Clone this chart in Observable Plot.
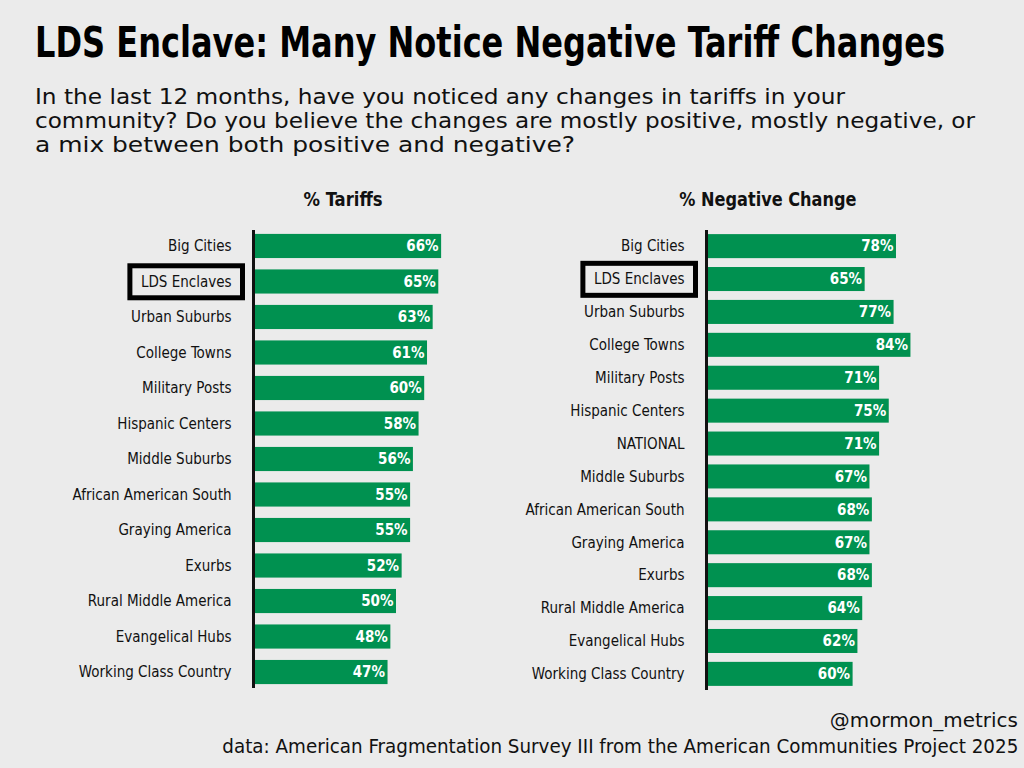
<!DOCTYPE html>
<html>
<head>
<meta charset="utf-8">
<script src="https://cdn.jsdelivr.net/npm/d3@7"></script>
<script src="https://cdn.jsdelivr.net/npm/@observablehq/plot@0.6"></script>
<style>
  html, body { margin: 0; padding: 0; }
  body { width: 1024px; height: 768px; background: #ebebeb; position: relative; overflow: hidden;
         font-family: "DejaVu Sans Condensed", "Liberation Sans Narrow", "Roboto", sans-serif; color: #111; }
  .abs { position: absolute; white-space: nowrap; }
  .fit { display: inline-block; white-space: nowrap; }
  #title { left: 35px; top: 17px; font-size: 43px; font-weight: bold; color: #000; transform-origin: left top; }
  .sub { left: 35px; font-size: 20.5px; line-height: 22px; color: #111; transform-origin: left top; }
  .ptitle { top: 188px; font-size: 19px; line-height: 22px; font-weight: bold; color: #111; transform-origin: center top; }
  .foot { font-size: 20px; line-height: 22px; color: #111; transform-origin: right top; }
  .chart { position: absolute; left: 0; top: 0; }
</style>
</head>
<body>
<div id="title" class="abs fit" data-w="910">LDS Enclave: Many Notice Negative Tariff Changes</div>
<div class="abs fit sub" style="top:86px" data-w="810">In the last 12 months, have you noticed any changes in tariffs in your</div>
<div class="abs fit sub" style="top:110px" data-w="940">community? Do you believe the changes are mostly positive, mostly negative, or</div>
<div class="abs fit sub" style="top:134px" data-w="540">a mix between both positive and negative?</div>
<div class="abs fit ptitle" data-w="79" data-c="343">% Tariffs</div>
<div class="abs fit ptitle" data-w="177" data-c="768">% Negative Change</div>
<div id="left" class="chart"></div>
<div id="right" class="chart"></div>
<div class="abs fit foot" style="right:6px; top:709px" data-w="188">@mormon_metrics</div>
<div class="abs fit foot" style="right:6px; top:735px" data-w="796">data: American Fragmentation Survey III from the American Communities Project 2025</div>
<script>
const tariffCategories = ["Big Cities","LDS Enclaves","Urban Suburbs","College Towns","Military Posts","Hispanic Centers","Middle Suburbs","African American South","Graying America","Exurbs","Rural Middle America","Evangelical Hubs","Working Class Country"];
const tariffValues = [66,65,63,61,60,58,56,55,55,52,50,48,47];

const negCategories = ["Big Cities","LDS Enclaves","Urban Suburbs","College Towns","Military Posts","Hispanic Centers","NATIONAL","Middle Suburbs","African American South","Graying America","Exurbs","Rural Middle America","Evangelical Hubs","Working Class Country"];
const negValues = [78,65,77,84,71,75,71,67,68,67,68,64,62,60];

const highlight = "LDS Enclaves";
const GREEN = "#009150";
const FONT = '"DejaVu Sans Condensed", "Liberation Sans Narrow", "Roboto", sans-serif';

// fit heading/footer texts to the reference widths
document.querySelectorAll(".fit").forEach(el => {
  const w = el.getBoundingClientRect().width;
  const target = +el.dataset.w;
  const s = target / w;
  if (el.dataset.c) {
    el.style.left = (+el.dataset.c - w / 2) + "px";
  }
  el.style.transform = `scaleX(${s})`;
});

function panel(cats, vals, opts) {
  const data = cats.map((c, i) => ({cat: c, v: vals[i]}));
  return Plot.plot({
    width: opts.width,
    height: 700,
    marginTop: 230,
    marginBottom: opts.marginBottom,
    marginLeft: opts.marginLeft,
    marginRight: opts.marginRight,
    style: {background: "transparent", fontFamily: FONT, fontSize: "15px", color: "#111"},
    x: {domain: [0, 100], axis: null},
    y: {domain: cats, round: false, paddingInner: opts.pi, paddingOuter: opts.po, label: null, tickSize: 0, tickPadding: opts.tickPadding},
    marks: [
      Plot.barX(data, {y: "cat", x: "v", fill: GREEN}),
      Plot.text(data, {y: "cat", x: "v", text: d => d.v + "%", textAnchor: "end", dx: -3, fill: "white", fontWeight: "bold", fontSize: 15}),
      Plot.ruleX([0], {stroke: "#111", strokeWidth: 3, dx: -2})
    ]
  });
}

const L = panel(tariffCategories, tariffValues, {width: 540, marginLeft: 255, marginRight: 3, marginBottom: 12, pi: 0.32, po: 0.11, tickPadding: 24});
const R = panel(negCategories, negValues, {width: 1024, marginLeft: 708, marginRight: 75, marginBottom: 10, pi: 0.27, po: 0.125, tickPadding: 24});
document.getElementById("left").appendChild(L);
document.getElementById("right").appendChild(R);

// highlight box around the rendered tick label
[L, R].forEach(svg => {
  const t = Array.from(svg.querySelectorAll("text")).find(el => el.textContent === highlight && el.closest("[aria-label='y-axis tick label']"));
  if (!t) return;
  const bb = t.getBBox();
  const inv = svg.getScreenCTM().inverse();
  const M = t.getScreenCTM();
  const pt = svg.createSVGPoint();
  pt.x = bb.x; pt.y = bb.y;
  const p1 = pt.matrixTransform(M).matrixTransform(inv);
  pt.x = bb.x + bb.width; pt.y = bb.y + bb.height;
  const p2 = pt.matrixTransform(M).matrixTransform(inv);
  const padX = 11, cy = (p1.y + p2.y) / 2, h = 32;
  const r = document.createElementNS("http://www.w3.org/2000/svg", "rect");
  r.setAttribute("x", p1.x - padX);
  r.setAttribute("y", cy - h / 2);
  r.setAttribute("width", (p2.x - p1.x) + 2 * padX);
  r.setAttribute("height", h);
  r.setAttribute("fill", "none");
  r.setAttribute("stroke", "#000");
  r.setAttribute("stroke-width", 5);
  svg.appendChild(r);
});
</script>
</body>
</html>
